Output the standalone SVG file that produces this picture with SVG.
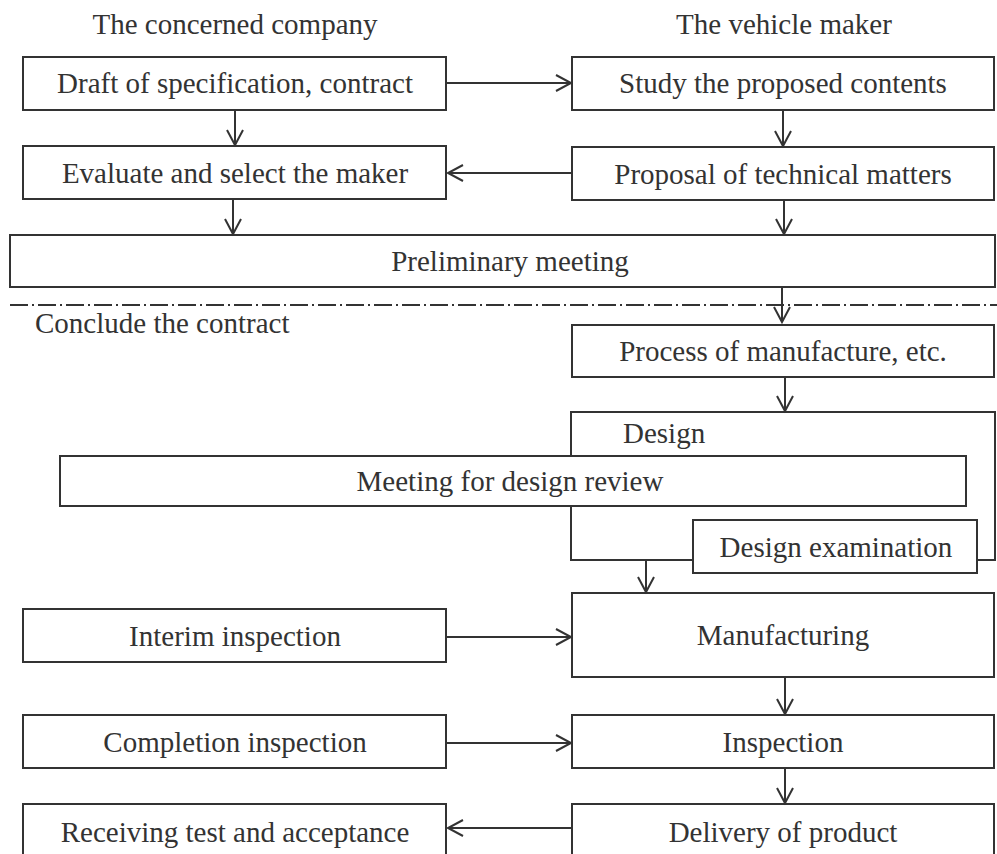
<svg xmlns="http://www.w3.org/2000/svg" width="997" height="854" viewBox="0 0 997 854">
<style>
.box{fill:#fff;stroke:#333;stroke-width:2}
.t{font-family:"Liberation Serif","Times New Roman",serif;font-size:29px;fill:#333}
.c{text-anchor:middle}
.ln{fill:none;stroke:#333;stroke-width:2}
.arr{fill:none;stroke:#333;stroke-width:2;marker-end:url(#ah)}
.dd{fill:none;stroke:#333;stroke-width:2;stroke-dasharray:18 4 2 4}
</style>
<defs>
<marker id="ah" markerUnits="userSpaceOnUse" viewBox="-17 -10 19 20" refX="0" refY="0" markerWidth="19" markerHeight="20" orient="auto" overflow="visible">
<path d="M-15,-8 L0,0 L-15,8" fill="none" stroke="#333" stroke-width="2"/>
</marker>
</defs>
<rect width="997" height="854" fill="#fff"/>
<g id="headers">
<text class="t c" x="235" y="34">The concerned company</text>
<text class="t c" x="784" y="34">The vehicle maker</text>
</g>
<g id="n-draft"><rect class="box" x="23" y="57" width="423" height="53"/><text class="t c" x="235" y="93">Draft of specification, contract</text></g>
<g id="n-study"><rect class="box" x="572" y="57" width="422" height="53"/><text class="t c" x="783" y="93">Study the proposed contents</text></g>
<g id="n-evaluate"><rect class="box" x="23" y="146" width="423" height="53"/><text class="t c" x="235" y="183">Evaluate and select the maker</text></g>
<g id="n-proposal"><rect class="box" x="572" y="147" width="422" height="53"/><text class="t c" x="783" y="184">Proposal of technical matters</text></g>
<g id="n-prelim"><rect class="box" x="10" y="235" width="985" height="52"/><text class="t c" x="510" y="271">Preliminary meeting</text></g>
<g id="divider"><line class="dd" x1="10" y1="305" x2="997" y2="305"/><text class="t" x="35" y="333">Conclude the contract</text></g>
<g id="n-process"><rect class="box" x="572" y="325" width="422" height="52"/><text class="t c" x="783" y="361">Process of manufacture, etc.</text></g>
<g id="n-design"><rect class="box" x="571" y="412" width="424" height="148"/><text class="t" x="623" y="443">Design</text></g>
<g id="n-meeting"><rect class="box" x="60" y="456" width="906" height="50"/><text class="t c" x="510" y="491">Meeting for design review</text></g>
<g id="n-exam"><rect class="box" x="693" y="520" width="284" height="53"/><text class="t c" x="836" y="557">Design examination</text></g>
<g id="n-interim"><rect class="box" x="23" y="609" width="423" height="53"/><text class="t c" x="235" y="646">Interim inspection</text></g>
<g id="n-manuf"><rect class="box" x="572" y="593" width="422" height="84"/><text class="t c" x="783" y="645">Manufacturing</text></g>
<g id="n-completion"><rect class="box" x="23" y="715" width="423" height="53"/><text class="t c" x="235" y="752">Completion inspection</text></g>
<g id="n-inspection"><rect class="box" x="572" y="715" width="422" height="53"/><text class="t c" x="783" y="752">Inspection</text></g>
<g id="n-receiving"><rect class="box" x="23" y="804" width="423" height="58"/><text class="t c" x="235" y="842">Receiving test and acceptance</text></g>
<g id="n-delivery"><rect class="box" x="572" y="804" width="422" height="58"/><text class="t c" x="783" y="842">Delivery of product</text></g>
<g id="connectors">
<line class="arr" x1="446" y1="83" x2="571" y2="83"/>
<line class="arr" x1="572" y1="173" x2="448" y2="173"/>
<line class="arr" x1="235" y1="110" x2="235" y2="145"/>
<line class="arr" x1="783" y1="110" x2="783" y2="146"/>
<line class="arr" x1="233" y1="199" x2="233" y2="234"/>
<line class="arr" x1="784" y1="200" x2="784" y2="234"/>
<line class="arr" x1="782" y1="287" x2="782" y2="322"/>
<line class="arr" x1="785" y1="377" x2="785" y2="411"/>
<line class="arr" x1="646" y1="560" x2="646" y2="592"/>
<line class="arr" x1="446" y1="637" x2="571" y2="637"/>
<line class="arr" x1="785" y1="677" x2="785" y2="714"/>
<line class="arr" x1="446" y1="743" x2="571" y2="743"/>
<line class="arr" x1="785" y1="768" x2="785" y2="803"/>
<line class="arr" x1="572" y1="828" x2="448" y2="828"/>
</g>
</svg>
